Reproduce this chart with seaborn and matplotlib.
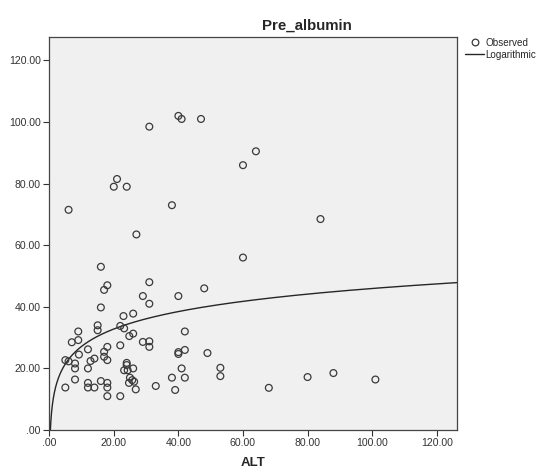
import numpy as np
import pandas as pd
import seaborn as sns
import matplotlib.pyplot as plt
from matplotlib.lines import Line2D
from matplotlib.ticker import FuncFormatter

# ALT vs Pre_albumin
alt = [6, 21, 20, 24, 38, 27, 60, 64, 60, 16, 18, 17, 31, 29, 31, 40, 48, 84,
       31, 40, 41, 47,
       16, 23, 26, 15, 15, 22, 23.2, 9, 26, 24.8, 42, 7, 9, 29, 31, 31, 18, 22,
       12, 9.2, 17, 17, 40, 40, 42, 49, 5, 6, 8, 12.8, 14, 18, 8, 12,
       24, 24, 23.2, 24.3, 26, 25, 25.7, 24.7, 26.3, 26.8, 41, 53, 53,
       5, 8, 12, 12, 14, 16, 18, 18, 18, 22, 33, 38, 39, 42, 68, 80, 88, 101]
pre_albumin = [71.5, 81.5, 79, 79, 73, 63.5, 86, 90.5, 56, 53, 47, 45.5, 48, 43.5, 41,
               43.5, 46, 68.5, 98.5, 102, 101, 101,
               39.8, 37, 37.8, 34, 32.4, 33.8, 33, 32, 31.3, 30.5, 32, 28.5, 29.2, 28.6,
               28.8, 27, 27, 27.5, 26.2, 24.5, 25.4, 23.8, 25.3, 24.7, 26, 25, 22.7, 22.3,
               21.6, 22.4, 23.2, 22.7, 20, 20,
               21.8, 21.1, 19.4, 19.4, 20, 17, 16.2, 15.3, 15.7, 13.2, 20, 20.2, 17.5,
               13.8, 16.4, 15.3, 13.8, 13.8, 15.9, 15.3, 13.8, 11, 11, 14.3, 17, 13, 17,
               13.7, 17.2, 18.5, 16.4]

df = pd.DataFrame({'ALT': alt, 'Pre_albumin': pre_albumin})

# logarithmic fit: y = b0 + b1 * ln(x)
b1, b0 = np.polyfit(np.log(df['ALT']), df['Pre_albumin'], 1)
grid = np.geomspace(0.2, 126.4, 400)
fit = pd.DataFrame({'ALT': grid, 'Pre_albumin': b0 + b1 * np.log(grid)})

sns.set_style('white')
plt.rcParams['font.family'] = ['Liberation Sans', 'DejaVu Sans']

fig = plt.figure(figsize=(5.4, 4.71), dpi=100)
ax = fig.add_axes([0.0911, 0.087, 0.756, 0.835])
ax.set_facecolor('#f0f0f0')

sns.scatterplot(data=df, x='ALT', y='Pre_albumin', ax=ax, s=24, marker='o',
                facecolor='none', edgecolor='#3a3a3a', linewidth=0.9, zorder=3)
sns.lineplot(data=fit, x='ALT', y='Pre_albumin', ax=ax, color='#262626',
             linewidth=1.0, zorder=2)

ax.set_xlim(0, 126.4)
ax.set_ylim(0, 127.7)
ax.set_xticks(range(0, 121, 20))
ax.set_yticks(range(0, 121, 20))
fmt = FuncFormatter(lambda v, p: '.00' if v == 0 else f'{v:.2f}')
ax.xaxis.set_major_formatter(fmt)
ax.yaxis.set_major_formatter(fmt)
ax.tick_params(axis='both', direction='out', length=4, width=0.8, color='#333333',
               labelsize=7.6, labelcolor='#333333', pad=2)
ax.tick_params(bottom=True, left=True)
for sp in ax.spines.values():
    sp.set_color('#444444')
    sp.set_linewidth(0.9)

ax.set_xlabel('ALT', fontsize=9.5, fontweight='bold', labelpad=6)
ax.set_ylabel('')
ax.set_title('Pre_albumin', fontsize=10.8, fontweight='bold', pad=5, x=0.631)

handles = [Line2D([], [], marker='o', linestyle='none', markerfacecolor='none',
                  markeredgecolor='#3a3a3a', markersize=4.8, markeredgewidth=0.9),
           Line2D([], [], color='#262626', linewidth=1.0)]
fig.legend(handles, ['Observed', 'Logarithmic'], loc='upper left',
           bbox_to_anchor=(0.862, 0.92), frameon=False, fontsize=7.1,
           handlelength=1.9, handletextpad=0.1, labelspacing=0.2, borderaxespad=0,
           borderpad=0)

fig.savefig('out.png', dpi=100)
